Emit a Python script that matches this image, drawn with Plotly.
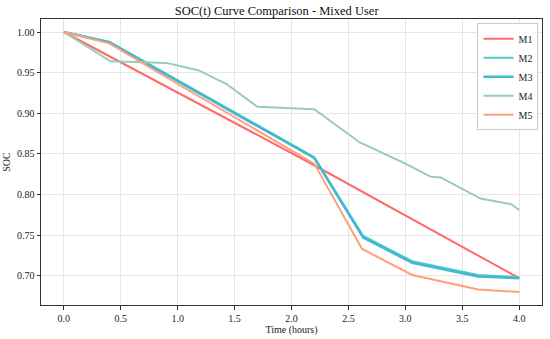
import plotly.graph_objects as go

# Data
m1_t = [0.0, 2.2, 4.0]
m1_soc = [1.0, 0.836, 0.697]

m2_t = [0.0, 0.4, 2.2, 2.63, 3.06, 3.64, 4.0]
m2_soc = [1.0, 0.988, 0.846, 0.749, 0.718, 0.701, 0.698]

m3_t = [0.0, 0.4, 2.2, 2.63, 3.06, 3.64, 4.0]
m3_soc = [1.0, 0.987, 0.845, 0.747, 0.716, 0.699, 0.697]

m4_t = [0.0, 0.41, 0.9, 1.18, 1.43, 1.7, 2.2, 2.6, 3.0, 3.22, 3.31, 3.66, 3.93, 4.0]
m4_soc = [1.0, 0.964, 0.962, 0.953, 0.936, 0.908, 0.905, 0.864, 0.838, 0.822, 0.821, 0.795, 0.788, 0.781]

m5_t = [0.0, 0.4, 1.0, 2.2, 2.62, 3.06, 3.64, 4.0]
m5_soc = [1.0, 0.986, 0.936, 0.838, 0.733, 0.701, 0.683, 0.680]

names = ["M1", "M2", "M3", "M4", "M5"]
colors = ["#FF6B6B", "#4ECDC4", "#45B7D1", "#96CEB4", "#FFA07A"]
widths = [2, 2, 2.6, 2, 2]
series = [(m1_t, m1_soc), (m2_t, m2_soc), (m3_t, m3_soc), (m4_t, m4_soc), (m5_t, m5_soc)]

xticks = [0.0, 0.5, 1.0, 1.5, 2.0, 2.5, 3.0, 3.5, 4.0]
yticks = [0.70, 0.75, 0.80, 0.85, 0.90, 0.95, 1.00]

font = "Liberation Serif, Times New Roman, serif"

fig = go.Figure()
for (t, s), n, c, w in zip(series, names, colors, widths):
    fig.add_trace(go.Scatter(x=t, y=s, mode="lines", name=n,
                             line=dict(color=c, width=w)))

axis_common = dict(showgrid=True, gridcolor="#e6e6e6", gridwidth=1,
                   showline=True, linecolor="#333333", linewidth=1, mirror=True,
                   ticks="outside", ticklen=3.5, tickcolor="#333333",
                   zeroline=False, automargin=False,
                   tickfont=dict(size=10, color="#222", family=font))

fig.update_layout(
    width=550, height=339,
    margin=dict(l=41, r=8, t=19, b=34),
    paper_bgcolor="white", plot_bgcolor="white",
    font=dict(family=font, color="#222"),
    title=dict(text="SOC(t) Curve Comparison - Mixed User", x=0.503, xanchor="center",
               y=0.968, yanchor="middle", font=dict(size=12.5, family=font, color="#111")),
    xaxis=dict(range=[-0.2, 4.2], tickvals=xticks, ticktext=[f"{v:.1f}" for v in xticks],
               title=dict(text="Time (hours)", font=dict(size=10, family=font), standoff=3),
               **axis_common),
    yaxis=dict(range=[0.664, 1.016], tickvals=yticks, ticktext=[f"{v:.2f}" for v in yticks],
               title=dict(text="SOC", font=dict(size=10, family=font), standoff=4),
               **axis_common),
    legend=dict(x=0.993, y=0.985, xanchor="right", yanchor="top",
                bgcolor="rgba(255,255,255,0.85)", bordercolor="#cccccc", borderwidth=1,
                font=dict(size=10, family=font), itemwidth=30, tracegroupgap=0),
    showlegend=True,
)

fig.write_html("out.html", config={"displayModeBar": False},
               post_script="document.body.style.margin='0';")
